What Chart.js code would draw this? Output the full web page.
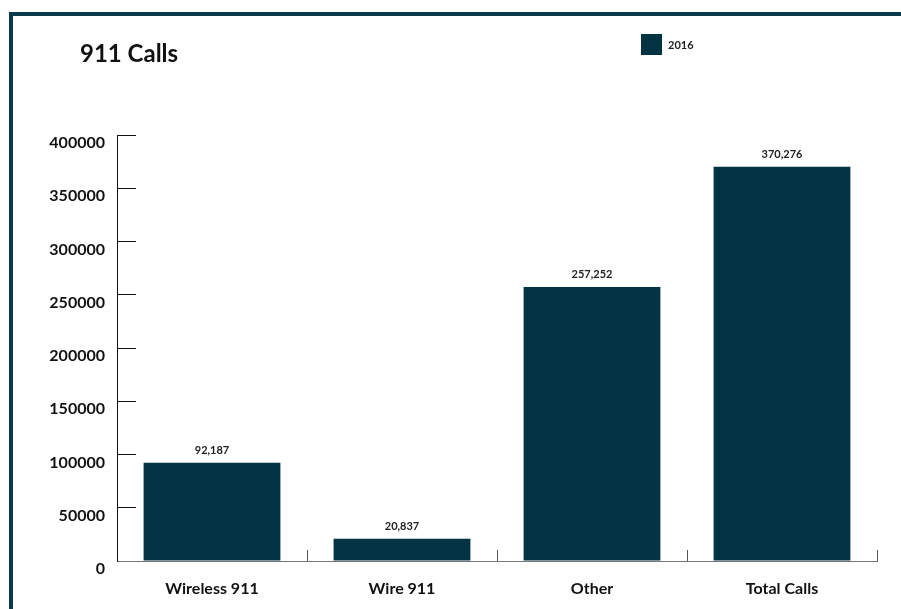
<!DOCTYPE html>
<html>
<head>
<meta charset="utf-8">
<title>911 Calls</title>
<script src="https://cdn.jsdelivr.net/npm/chart.js@4/dist/chart.umd.min.js"></script>
<style>
  html, body { margin: 0; padding: 0; background: #fff; }
  #wrap { position: relative; width: 901px; height: 609px; overflow: hidden; }
  #frame {
    position: absolute; left: 9px; top: 12px; right: -10px; bottom: -10px;
    border-top: 4px solid #0b3a4a; border-left: 4px solid #0b3a4a;
    pointer-events: none;
  }
  #title {
    position: absolute; left: 80px; top: 38px; margin: 0;
    font: bold 24px Lato, sans-serif; color: #111; line-height: 30px;
  }
  #legend {
    position: absolute; left: 641px; top: 34px;
    display: flex; align-items: center;
    font: bold 11px Lato, sans-serif; color: #222;
  }
  #legend .box { width: 21px; height: 21px; margin-right: 6px; }
</style>
</head>
<body>
<div id="wrap">
  <canvas id="chart" width="901" height="609"></canvas>
  <div id="frame"></div>
  <h1 id="title">911 Calls</h1>
  <div id="legend"></div>
</div>
<script>
// Données
const categories = ['Wireless 911', 'Wire 911', 'Other', 'Total Calls'];
const calls2016 = [92187, 20837, 257252, 370276];
const seriesLabel = '2016';
const yMax = 400000;
const yStep = 50000;

const barColor = '#023342';
const fontFamily = "Lato, 'Open Sans', sans-serif";

// Valeurs au-dessus des barres
const valueLabels = {
  id: 'valueLabels',
  afterDatasetsDraw(chart) {
    const { ctx } = chart;
    const meta = chart.getDatasetMeta(0);
    ctx.save();
    ctx.font = `bold 11px ${fontFamily}`;
    ctx.fillStyle = '#222';
    ctx.textAlign = 'center';
    ctx.textBaseline = 'bottom';
    meta.data.forEach((bar, i) => {
      const v = chart.data.datasets[0].data[i];
      ctx.fillText(v.toLocaleString('en-US'), bar.x, bar.y - 7);
    });
    ctx.restore();
  }
};

const chart = new Chart(document.getElementById('chart'), {
  type: 'bar',
  data: {
    labels: categories,
    datasets: [{
      label: seriesLabel,
      data: calls2016,
      backgroundColor: barColor,
      categoryPercentage: 1,
      barPercentage: 0.72
    }]
  },
  options: {
    responsive: false,
    animation: false,
    layout: { padding: { left: 0, right: 24, top: 135, bottom: 0 } },
    plugins: {
      legend: { display: false },
      tooltip: { enabled: false },
      title: { display: false }
    },
    scales: {
      x: {
        afterFit: s => { s.height = 48; },
        border: { color: '#777', width: 1 },
        grid: {
          offset: true,
          drawOnChartArea: false,
          tickLength: -11, // petits traits vers le haut
          color: '#555'
        },
        ticks: {
          padding: 29,
          color: '#111',
          font: { family: fontFamily, size: 16, weight: 'bold' }
        }
      },
      y: {
        min: 0,
        max: yMax,
        afterFit: s => { s.width = 117; },
        border: { color: '#111', width: 1 },
        grid: {
          drawOnChartArea: false,
          tickLength: -19,
          color: '#111'
        },
        ticks: {
          stepSize: yStep,
          padding: 31,
          labelOffset: 8,
          color: '#111',
          font: { family: fontFamily, size: 16, weight: 'bold' },
          callback: v => String(v)
        }
      }
    }
  },
  plugins: [valueLabels]
});

// Légende HTML
const legendEl = document.getElementById('legend');
chart.options.plugins.legend.labels.generateLabels(chart).forEach(item => {
  const box = document.createElement('span');
  box.className = 'box';
  box.style.background = item.fillStyle;
  const txt = document.createElement('span');
  txt.textContent = item.text;
  legendEl.appendChild(box);
  legendEl.appendChild(txt);
});
</script>
</body>
</html>
